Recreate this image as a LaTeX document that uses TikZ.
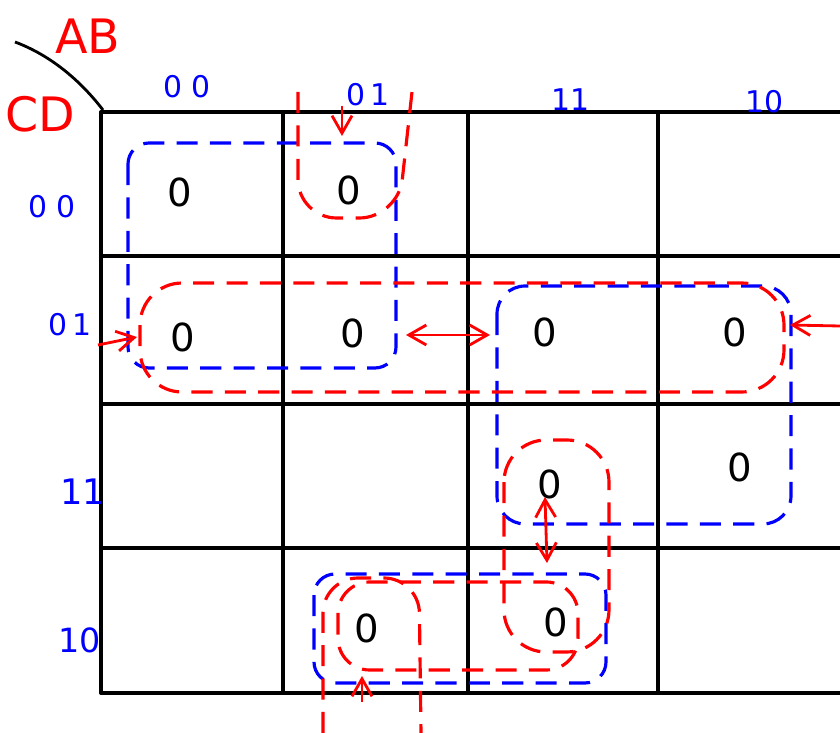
\documentclass[tikz,border=0pt]{standalone}
\usepackage{fontspec}
\setmainfont{DejaVu Sans}
\usepackage{tikz}
\usetikzlibrary{arrows.meta}

\begin{document}
\begin{tikzpicture}[
    x=0.02cm, y=-0.02cm,
    gridline/.style={line width=2pt, line cap=round},
    bluegrp/.style={draw=blue, line width=1.8pt, dash pattern=on 12pt off 7pt},
    redgrp/.style={draw=red, line width=1.8pt, dash pattern=on 12pt off 7pt},
    redarrow/.style={draw=red, line width=1.6pt, -{Straight Barb[length=3.5mm, width=4mm]}},
    reddouble/.style={draw=red, line width=1.6pt, {Straight Barb[length=3.5mm, width=4mm]}-{Straight Barb[length=3.5mm, width=4mm]}},
    zero/.style={font=\fontsize{22}{24}\selectfont},
    hdr/.style={text=blue, font=\fontsize{17}{19}\selectfont},
    varname/.style={text=red, font=\fontsize{27}{29}\selectfont}
]
\useasboundingbox (0,0) rectangle (840,733);

% grid
\foreach \y in {112,256,404,548,693}
    \draw[gridline] (101,\y) -- (840,\y);
\foreach \x in {101,283,468,658}
    \draw[gridline] (\x,112) -- (\x,693);
\draw[line width=1.6pt] (15,42) .. controls (50,55) and (80,80) .. (103,110);

% variable names and headers
\node[varname] (ab) at (88,36) {AB};
\node[varname] (cd) at (40,114) {CD};
\node[hdr] (c00) at (187,87) {0\,\,0};
\node[hdr] (c01) at (368,95) {0\,1};
\node[hdr] (c11) at (571,100) {11};
\node[hdr] (c10) at (765,102) {10};
\node[hdr] (r00) at (52,207) {0\,\,0};
\node[hdr] (r01) at (70,325) {0\,1};
\node[hdr, font=\fontsize{20}{22}\selectfont] (r11) at (83,492) {11};
\node[hdr, font=\fontsize{19}{21}\selectfont] (r10) at (80,640) {10};

% cell values
\node[zero] (z0000) at (180,192) {0};
\node[zero] (z0001) at (349,190) {0};
\node[zero] (z0100) at (183,337) {0};
\node[zero] (z0101) at (353,333) {0};
\node[zero] (z0111) at (545,332) {0};
\node[zero] (z0110) at (735,332) {0};
\node[zero] (z1111) at (550,484) {0};
\node[zero] (z1110) at (740,467) {0};
\node[zero] (z1001) at (367,628) {0};
\node[zero] (z1011) at (556,622) {0};

% blue groups
\draw[bluegrp, rounded corners=12pt] (128,143) rectangle (396,368);
\draw[bluegrp, rounded corners=16pt] (497,286) rectangle (791,524);
\draw[bluegrp, rounded corners=12pt] (314,574) rectangle (606,683);

% red groups
\draw[redgrp, rounded corners=22pt] (298,92) -- (298,218) -- (398,218) -- (412,92);
\draw[redgrp, rounded corners=24pt] (140,283) rectangle (784,392);
\draw[redgrp, rounded corners=24pt] (504,440) rectangle (609,652);
\draw[redgrp, rounded corners=18pt] (338,582) rectangle (578,670);
\draw[redgrp, rounded corners=20pt] (323,733) -- (323,578) -- (419,578) -- (421,733);

% red arrows
\coordinate (topfrom) at (342,106);
\coordinate (topto) at (342,136);
\coordinate (leftfrom) at (98,345);
\coordinate (leftto) at (137,337);
\coordinate (rightfrom) at (840,326);
\coordinate (rightto) at (790,325);
\coordinate (midl) at (406,335);
\coordinate (midr) at (490,335);
\coordinate (vtop) at (545,497);
\coordinate (vbot) at (547,563);
\coordinate (botfrom) at (362,702);
\coordinate (botto) at (362,676);
\draw[redarrow] (topfrom) -- (topto);
\draw[redarrow] (leftfrom) -- (leftto);
\draw[redarrow] (rightfrom) -- (rightto);
\draw[reddouble] (midl) -- (midr);
\draw[reddouble] (vtop) -- (vbot);
\draw[redarrow] (botfrom) -- (botto);
\end{tikzpicture}
\end{document}
